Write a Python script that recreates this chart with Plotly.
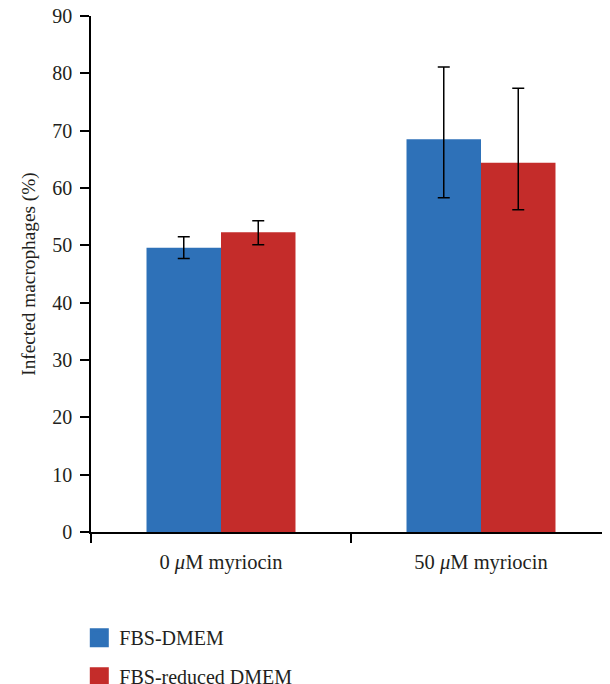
import plotly.graph_objects as go

categories = ["0 <i>μ</i>M myriocin", "50 <i>μ</i>M myriocin"]
series_names = ["FBS-DMEM", "FBS-reduced DMEM"]
fbs_dmem = [49.6, 68.5]
fbs_dmem_err_plus = [1.9, 12.6]
fbs_dmem_err_minus = [1.9, 10.2]
fbs_reduced = [52.3, 64.4]
fbs_reduced_err_plus = [2.0, 13.0]
fbs_reduced_err_minus = [2.2, 8.2]
y_ticks = [0, 10, 20, 30, 40, 50, 60, 70, 80, 90]

colors = ["#2E71B8", "#C42C2A"]
FONT = "Liberation Serif, DejaVu Serif, serif"
TXT = "#231F20"

fig = go.Figure()
for name, vals, ep, em, col in [
    (series_names[0], fbs_dmem, fbs_dmem_err_plus, fbs_dmem_err_minus, colors[0]),
    (series_names[1], fbs_reduced, fbs_reduced_err_plus, fbs_reduced_err_minus, colors[1]),
]:
    fig.add_trace(go.Bar(
        x=categories, y=vals, name=name, marker=dict(color=col, line=dict(width=0)),
        error_y=dict(type="data", symmetric=False, array=ep, arrayminus=em,
                     color="black", thickness=1.5, width=6),
        showlegend=False,
    ))
    fig.add_trace(go.Scatter(
        x=[None], y=[None], mode="markers", name=name, legendgroup=name,
        marker=dict(symbol="square", size=16, color=col, line=dict(color=col, width=3)),
    ))

fig.update_layout(
    width=610, height=684,
    margin=dict(l=83, r=7, t=8, b=160, autoexpand=False),
    paper_bgcolor="white", plot_bgcolor="white",
    barmode="group", bargap=0.427, bargroupgap=0,
    font=dict(family=FONT, size=18, color=TXT),
    legend=dict(orientation="v", x=-0.0225, xanchor="left", y=-0.167, yanchor="top",
                font=dict(family=FONT, size=20, color=TXT), tracegroupgap=10,
                itemsizing="trace"),
)
fig.update_xaxes(
    showline=True, linecolor="black", linewidth=1.5, automargin=False,
    ticks="outside", tickson="boundaries", ticklen=9, tickcolor="black", tickwidth=1.5,
    ticklabelstandoff=11, showgrid=False, tickfont=dict(family=FONT, size=20.5, color=TXT),
    ticklabeloverflow="allow",
)
fig.update_yaxes(
    range=[0, 90], tickvals=y_ticks, showline=True, linecolor="black", linewidth=1.5,
    automargin=False,
    ticks="outside", ticklen=9, tickcolor="black", tickwidth=1.5,
    ticklabelstandoff=4, showgrid=False, zeroline=False,
    tickfont=dict(family=FONT, size=20, color=TXT),
    ticklabeloverflow="allow",
    title=dict(text="Infected macrophages (%)", font=dict(family=FONT, size=19.3, color=TXT),
               standoff=11),
)

fig.write_html("out.html")
